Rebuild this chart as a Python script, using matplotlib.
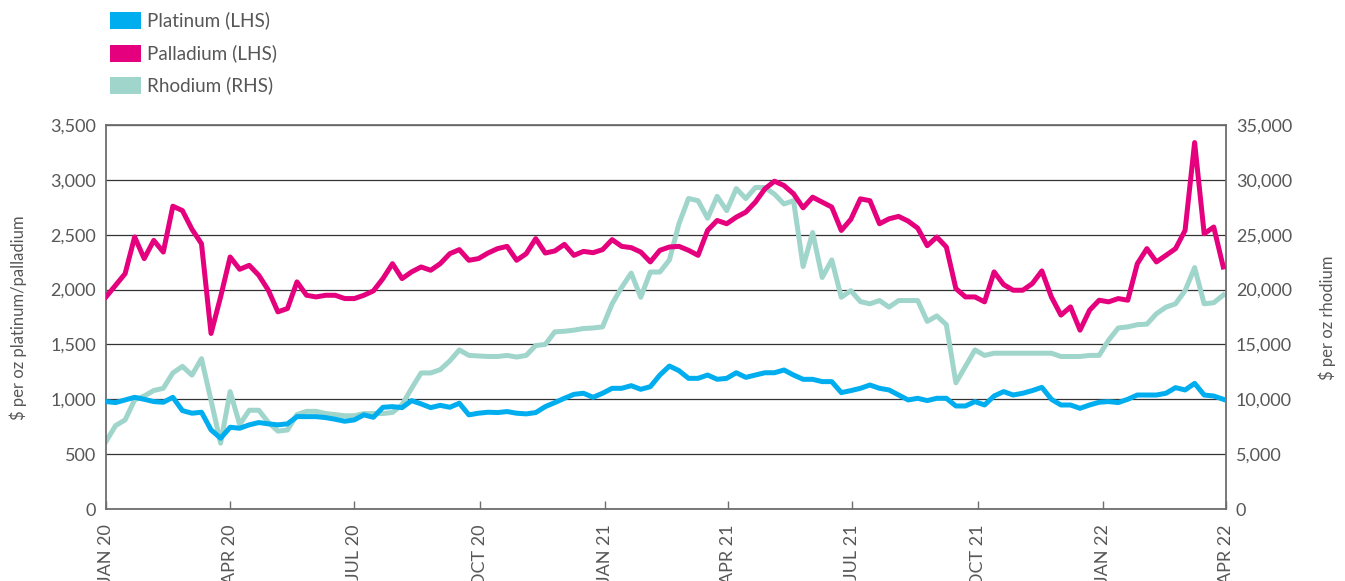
import matplotlib
matplotlib.use('Agg')
import matplotlib.pyplot as plt
from matplotlib.patches import Rectangle
import pandas as pd

plt.rcParams['font.family'] = ['Lato', 'DejaVu Sans']

# ---------------- data (weekly) ----------------
dates = pd.date_range('2020-01-01', periods=118, freq='7D')

platinum = [
    979, 970, 994, 1018, 1000, 979, 973, 1018, 897, 873,
    882, 721, 645, 745, 736, 767, 788, 776, 767, 776,
    842, 842, 842, 833, 818, 800, 812, 858, 836, 927,
    933, 924, 988, 958, 924, 945, 927, 964, 858, 873,
    882, 879, 888, 873, 867, 879, 933, 970, 1009, 1045,
    1055, 1018, 1055, 1100, 1100, 1124, 1091, 1115, 1221, 1303,
    1261, 1191, 1191, 1221, 1182, 1191, 1242, 1200, 1221, 1242,
    1242, 1267, 1221, 1182, 1182, 1161, 1161, 1061, 1079, 1100,
    1130, 1100, 1085, 1039, 994, 1009, 988, 1009, 1009, 939,
    939, 979, 948, 1030, 1070, 1039, 1055, 1079, 1109, 1000,
    948, 948, 918, 948, 973, 979, 970, 1000, 1039, 1039,
    1039, 1055, 1106, 1085, 1145, 1039, 1030, 1000,
]

palladium = [
    1933, 2039, 2145, 2480, 2282, 2448, 2342, 2760, 2720, 2550,
    2418, 1600, 1933, 2297, 2185, 2221, 2130, 1994, 1797, 1827,
    2070, 1948, 1933, 1948, 1948, 1918, 1918, 1948, 1988, 2100,
    2236, 2100, 2161, 2206, 2176, 2236, 2327, 2364, 2267, 2282,
    2333, 2373, 2394, 2267, 2327, 2464, 2333, 2352, 2412, 2312,
    2348, 2336, 2364, 2455, 2394, 2382, 2342, 2252, 2358, 2388,
    2394, 2358, 2312, 2540, 2630, 2600, 2660, 2706, 2797, 2918,
    2988, 2948, 2873, 2745, 2842, 2797, 2752, 2539, 2640, 2827,
    2810, 2600, 2645, 2667, 2624, 2560, 2400, 2479, 2388, 2009,
    1933, 1933, 1888, 2161, 2045, 1994, 1994, 2054, 2170, 1933,
    1767, 1842, 1630, 1812, 1903, 1888, 1918, 1903, 2236, 2373,
    2252, 2312, 2373, 2539, 3340, 2509, 2570, 2206,
]

rhodium = [
    6150, 7600, 8120, 9940, 10300, 10800, 11000, 12400, 13000, 12200,
    13700, 9900, 6000, 10700, 7700, 9000, 9000, 7900, 7100, 7200,
    8600, 8900, 8900, 8700, 8600, 8500, 8500, 8700, 8700, 8700,
    8800, 9500, 11000, 12400, 12400, 12700, 13500, 14500, 14000, 13950,
    13900, 13900, 14000, 13850, 14000, 14900, 15000, 16150, 16200, 16300,
    16450, 16500, 16600, 18700, 20200, 21500, 19300, 21600, 21600, 22700,
    26000, 28300, 28100, 26500, 28500, 27200, 29200, 28300, 29300, 29300,
    28700, 27800, 28100, 22100, 25200, 21100, 22700, 19300, 19900, 18900,
    18700, 19000, 18400, 19000, 19000, 19000, 17100, 17600, 16800, 11500,
    13000, 14500, 14000, 14200, 14200, 14200, 14200, 14200, 14200, 14200,
    13900, 13900, 13900, 14000, 14000, 15400, 16500, 16600, 16800, 16850,
    17800, 18400, 18700, 19900, 22000, 18700, 18800, 19500,
]

series_names = ['Platinum (LHS)', 'Palladium (LHS)', 'Rhodium (RHS)']
series_colors = ['#00aeef', '#e5007d', '#a0d5cb']

tick_dates = pd.to_datetime(['2020-01-01', '2020-04-01', '2020-07-01', '2020-10-01',
                             '2021-01-01', '2021-04-01', '2021-07-01', '2021-10-01',
                             '2022-01-01', '2022-04-01'])
tick_labels = ['JAN 20', 'APR 20', 'JUL 20', 'OCT 20', 'JAN 21', 'APR 21',
               'JUL 21', 'OCT 21', 'JAN 22', 'APR 22']
left_ticks = [0, 500, 1000, 1500, 2000, 2500, 3000, 3500]
right_ticks = [0, 5000, 10000, 15000, 20000, 25000, 30000, 35000]

# ---------------- figure ----------------
W, H = 1345, 581
fig = plt.figure(figsize=(W / 100, H / 100), dpi=100)
fig.patch.set_facecolor('white')
ax = fig.add_axes([106 / W, (H - 509) / H, 1120 / W, 384 / H])
ax2 = ax.twinx()

text_c = '#575757'
spine_c = '#6e6e6e'
lw = 3.6

# rhodium on right axis, drawn below the others
ax2.plot(dates, rhodium, color=series_colors[2], lw=lw, solid_joinstyle='round', zorder=3)
ax.plot(dates, platinum, color=series_colors[0], lw=lw, solid_joinstyle='round', zorder=3)
ax.plot(dates, palladium, color=series_colors[1], lw=lw, solid_joinstyle='round', zorder=4)

ax.set_zorder(ax2.get_zorder() + 1)
ax.patch.set_visible(False)
ax2.patch.set_visible(True)
ax2.patch.set_facecolor('white')

ax.set_xlim(tick_dates[0], tick_dates[-1])
ax.set_ylim(0, 3500)
ax2.set_ylim(0, 35000)

ax.set_yticks(left_ticks)
ax.set_yticklabels([f'{v:,}' for v in left_ticks])
ax2.set_yticks(right_ticks)
ax2.set_yticklabels([f'{v:,}' for v in right_ticks])

ax.set_xticks(tick_dates)
ax.set_xticklabels(tick_labels, rotation=90, va='top', ha='center')

ax.tick_params(axis='x', direction='in', length=6, width=1, color=spine_c,
               pad=11, labelsize=13, labelcolor=text_c)
ax.tick_params(axis='y', length=0, pad=7, labelsize=13, labelcolor=text_c)
ax2.tick_params(axis='y', length=0, pad=7, labelsize=13, labelcolor=text_c)

ax2.grid(axis='y', color='#333333', lw=0.9)
ax2.set_axisbelow(True)

for s in ax2.spines.values():
    s.set_visible(False)
for s in ax.spines.values():
    s.set_visible(True)
    s.set_color(spine_c)
    s.set_linewidth(1.3)

fig.text(18 / W, (H - 318) / H, r'\$ per oz platinum/palladium', rotation=90,
         ha='center', va='center', fontsize=12, color=text_c)
fig.text(1327 / W, (H - 318) / H, r'\$ per oz rhodium', rotation=90,
         ha='center', va='center', fontsize=12, color=text_c)

# legend
for k, (name, col) in enumerate(zip(series_names, series_colors)):
    top = 12 + 32.5 * k
    fig.add_artist(Rectangle((110 / W, (H - top - 17) / H), 31 / W, 17 / H,
                             transform=fig.transFigure, facecolor=col,
                             edgecolor='none'))
    fig.text(147 / W, (H - top - 8.5) / H, name, ha='left', va='center',
             fontsize=13.6, color=text_c)

fig.savefig('out.png', dpi=100)
